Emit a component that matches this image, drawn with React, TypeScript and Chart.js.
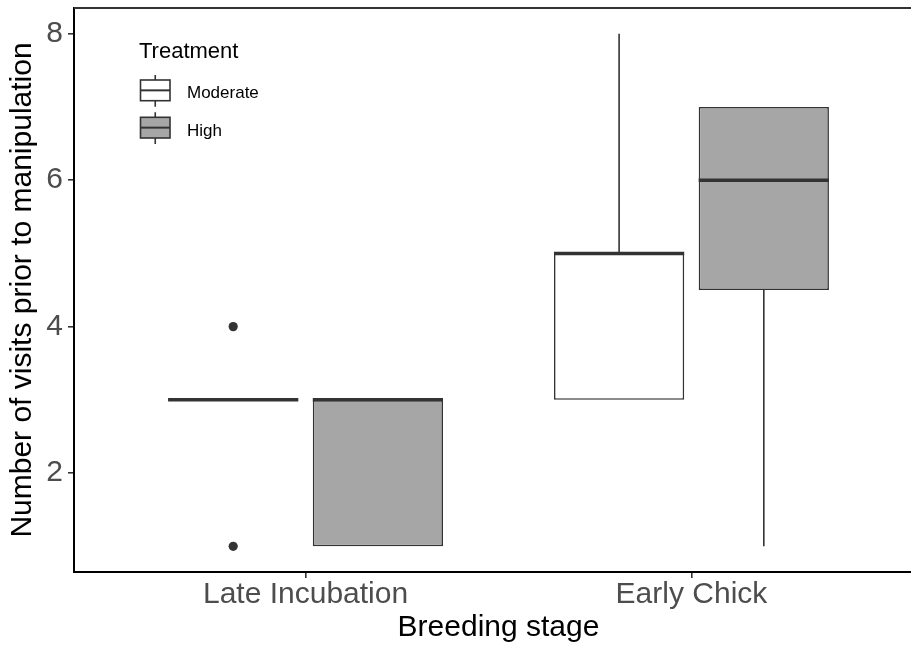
import React, { useEffect, useRef } from 'react';
import { Chart, registerables } from 'chart.js';

Chart.register(...registerables);

// ---- data ----
const categories = ['Late Incubation', 'Early Chick'];
const categoryPositions = [1, 2];
const treatments = ['Moderate', 'High'];
const treatmentFills = ['#FFFFFF', '#A6A6A6'];

const moderateLowerWhisker = [3, 3];
const moderateQ1 = [3, 3];
const moderateMedian = [3, 5];
const moderateQ3 = [3, 5];
const moderateUpperWhisker = [3, 8];
const moderateOutliers = [[1, 4], []];

const highLowerWhisker = [1, 1];
const highQ1 = [1, 4.5];
const highMedian = [3, 6];
const highQ3 = [3, 7];
const highUpperWhisker = [3, 7];
const highOutliers = [[], []];

const yTicks = [2, 4, 6, 8];

const xTitle = 'Breeding stage';
const yTitle = 'Number of visits prior to manipulation';
const legendTitle = 'Treatment';

const STROKE = '#333333';
const FONT = "'Liberation Sans', Arial, Helvetica, sans-serif";

type Stats = {
  lower: number[];
  q1: number[];
  median: number[];
  q3: number[];
  upper: number[];
  outliers: number[][];
};

const statsByTreatment: Stats[] = [
  {
    lower: moderateLowerWhisker,
    q1: moderateQ1,
    median: moderateMedian,
    q3: moderateQ3,
    upper: moderateUpperWhisker,
    outliers: moderateOutliers,
  },
  {
    lower: highLowerWhisker,
    q1: highQ1,
    median: highMedian,
    q3: highQ3,
    upper: highUpperWhisker,
    outliers: highOutliers,
  },
];

const boxplotPlugin = {
  id: 'boxplotExtras',
  beforeDatasetsDraw(chart: any) {
    const ctx = chart.ctx;
    const y = chart.scales.y;
    ctx.save();
    ctx.strokeStyle = STROKE;
    ctx.lineWidth = 1.6;
    statsByTreatment.forEach((s, d) => {
      const meta = chart.getDatasetMeta(d);
      meta.data.forEach((el: any, i: number) => {
        const { x } = el.getProps(['x'], true);
        ctx.beginPath();
        if (s.upper[i] > s.q3[i]) {
          ctx.moveTo(x, y.getPixelForValue(s.q3[i]));
          ctx.lineTo(x, y.getPixelForValue(s.upper[i]));
        }
        if (s.lower[i] < s.q1[i]) {
          ctx.moveTo(x, y.getPixelForValue(s.q1[i]));
          ctx.lineTo(x, y.getPixelForValue(s.lower[i]));
        }
        ctx.stroke();
      });
    });
    ctx.restore();
  },
  afterDatasetsDraw(chart: any) {
    const ctx = chart.ctx;
    const y = chart.scales.y;
    ctx.save();
    statsByTreatment.forEach((s, d) => {
      const meta = chart.getDatasetMeta(d);
      meta.data.forEach((el: any, i: number) => {
        const { x, width } = el.getProps(['x', 'width'], true);
        const ym = y.getPixelForValue(s.median[i]);
        ctx.strokeStyle = STROKE;
        ctx.lineWidth = 3.5;
        ctx.lineCap = 'butt';
        ctx.beginPath();
        ctx.moveTo(x - width / 2, ym);
        ctx.lineTo(x + width / 2, ym);
        ctx.stroke();
        ctx.fillStyle = STROKE;
        s.outliers[i].forEach((v) => {
          ctx.beginPath();
          ctx.arc(x, y.getPixelForValue(v), 4.6, 0, Math.PI * 2);
          ctx.fill();
        });
      });
    });
    ctx.restore();
  },
  afterDraw(chart: any) {
    const ctx = chart.ctx;
    const area = chart.chartArea;
    ctx.save();
    // panel border (top and right)
    ctx.strokeStyle = STROKE;
    ctx.lineWidth = 2;
    ctx.beginPath();
    ctx.moveTo(area.left, area.top);
    ctx.lineTo(area.right, area.top);
    ctx.lineTo(area.right, area.bottom);
    ctx.stroke();

    // legend
    ctx.fillStyle = '#000';
    ctx.textAlign = 'left';
    ctx.textBaseline = 'alphabetic';
    ctx.font = `22px ${FONT}`;
    ctx.fillText(legendTitle, 139, 58);
    treatments.forEach((t, k) => {
      const top = 80 + k * 37.3;
      const left = 140.5;
      const w = 29.5;
      const h = 20.7;
      const cx = left + w / 2;
      ctx.strokeStyle = STROKE;
      ctx.lineWidth = 1.6;
      ctx.beginPath();
      ctx.moveTo(cx, top - 5);
      ctx.lineTo(cx, top);
      ctx.moveTo(cx, top + h);
      ctx.lineTo(cx, top + h + 6);
      ctx.stroke();
      ctx.fillStyle = treatmentFills[k];
      ctx.fillRect(left, top, w, h);
      ctx.strokeRect(left, top, w, h);
      ctx.beginPath();
      ctx.lineWidth = 2;
      ctx.moveTo(left, top + h / 2);
      ctx.lineTo(left + w, top + h / 2);
      ctx.stroke();
      ctx.fillStyle = '#000';
      ctx.font = `17px ${FONT}`;
      ctx.fillText(t, 187, top + 18.4);
    });
    ctx.restore();
  },
};

export default function App() {
  const canvasRef = useRef<HTMLCanvasElement | null>(null);

  useEffect(() => {
    if (!canvasRef.current) return;
    Chart.defaults.font.family = FONT;
    const datasets = treatments.map((t, d) => ({
      label: t,
      data: categoryPositions.map((x, i) => ({
        x,
        y: [statsByTreatment[d].q1[i], statsByTreatment[d].q3[i]],
      })),
      backgroundColor: treatmentFills[d],
      borderColor: STROKE,
      borderWidth: 1.6,
      borderSkipped: false as const,
      categoryPercentage: 0.75,
      barPercentage: 0.9,
    }));

    const chart = new Chart(canvasRef.current, {
      type: 'bar',
      data: { datasets: datasets as any },
      plugins: [boxplotPlugin],
      options: {
        animation: false,
        responsive: false,
        devicePixelRatio: 1,
        events: [],
        layout: { padding: { left: 0, right: 3, top: 8, bottom: 0 } },
        plugins: {
          legend: { display: false },
          tooltip: { enabled: false },
          title: { display: false },
        },
        scales: {
          x: {
            type: 'linear',
            min: 0.4,
            max: 2.6,
            offset: false,
            afterFit(scale: any) {
              scale.height = 75;
              scale.paddingLeft = 0;
              scale.paddingRight = 0;
              scale.paddingTop = 0;
              scale.paddingBottom = 0;
            },
            afterBuildTicks(scale: any) {
              scale.ticks = categoryPositions.map((v) => ({ value: v }));
            },
            grid: {
              offset: false,
              drawOnChartArea: false,
              drawTicks: true,
              tickLength: 6,
              color: STROKE,
              lineWidth: 1.6,
            },
            border: { display: true, color: '#000', width: 2 },
            ticks: {
              autoSkip: false,
              maxRotation: 0,
              padding: 0,
              color: '#4D4D4D',
              font: { size: 30, lineHeight: 1.1 },
              callback: (value: any) => {
                const idx = categoryPositions.indexOf(Number(value));
                return idx >= 0 ? categories[idx] : '';
              },
            },
            title: {
              display: true,
              text: xTitle,
              color: '#000',
              font: { size: 30, lineHeight: 1.2 },
              padding: { top: 0, bottom: 1.5 },
            },
          },
          y: {
            type: 'linear',
            min: 0.65,
            max: 8.35,
            beginAtZero: false,
            afterFit(scale: any) {
              scale.width = 74;
              scale.paddingLeft = 0;
              scale.paddingRight = 0;
              scale.paddingTop = 0;
              scale.paddingBottom = 0;
            },
            afterBuildTicks(scale: any) {
              scale.ticks = yTicks.map((v) => ({ value: v }));
            },
            grid: {
              drawOnChartArea: false,
              drawTicks: true,
              tickLength: 6,
              color: STROKE,
              lineWidth: 1.6,
            },
            border: { display: true, color: '#000', width: 2 },
            ticks: {
              padding: 5,
              color: '#4D4D4D',
              font: { size: 30 },
              callback: (value: any) => String(value),
            },
            title: {
              display: true,
              text: yTitle,
              color: '#000',
              font: { size: 30, lineHeight: 1.2 },
              padding: { top: 5, bottom: 0 },
            },
          },
        },
      } as any,
    });
    return () => chart.destroy();
  }, []);

  return (
    <div
      style={{
        position: 'absolute',
        left: 0,
        top: 0,
        width: 911,
        height: 647,
        overflow: 'hidden',
        background: '#fff',
      }}
    >
      <canvas ref={canvasRef} width={926} height={647} style={{ width: 926, height: 647, display: 'block' }} />
    </div>
  );
}
